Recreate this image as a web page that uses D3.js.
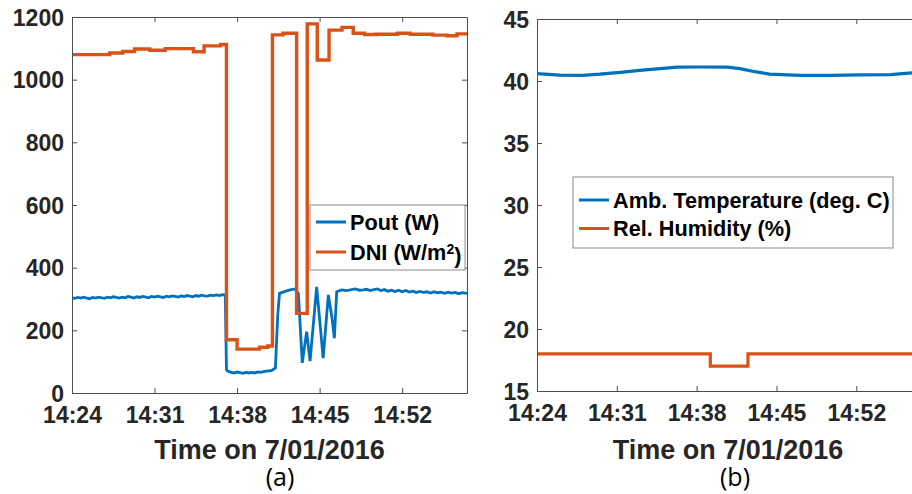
<!DOCTYPE html>
<html>
<head>
<meta charset="utf-8">
<script src="https://cdn.jsdelivr.net/npm/d3@7/dist/d3.min.js"></script>
<style>
  html, body { margin: 0; padding: 0; background: #fff; }
  svg { display: block; }
  .tick-label { font-family: "Liberation Sans", Arial, sans-serif; font-weight: bold; font-size: 23px; fill: #262626; }
  .axis-title { font-family: "Liberation Sans", Arial, sans-serif; font-weight: bold; font-size: 27px; fill: #262626; }
  .legend-text { font-family: "Liberation Sans", Arial, sans-serif; font-weight: bold; font-size: 21.7px; fill: #000; }
  .panel-tag { font-family: "Open Sans", "Noto Sans", sans-serif; font-size: 25px; fill: #000; }
</style>
</head>
<body>
<svg id="chart" width="912" height="494"></svg>
<script>
// Time axis: minutes after 14:24 on 7/01/2016
const timeDomain = [0, 33.5];
const timeTickMinutes = [0, 7, 14, 21, 28];
const timeTickLabels = ["14:24", "14:31", "14:38", "14:45", "14:52"];

// Panel (a): output power and direct normal irradiance
const powerTicks = [0, 200, 400, 600, 800, 1000, 1200];

const dniMinutes = [0, 3.2, 4.3, 5.3, 6.6, 7.9, 10.3, 11.2, 12.6, 13.1, 14.0, 15.9, 16.6, 17.0, 17.9, 19.05, 19.95, 20.8, 21.8, 22.9, 23.85, 24.8, 25.8, 27.6, 28.7, 30.6, 31.8, 32.65, 33.5];
const dniValues  = [1080, 1085, 1090, 1098, 1094, 1099, 1089, 1108, 1112, 170, 140, 146, 150, 1143, 1148, 254, 1178, 1063, 1158, 1167, 1148, 1144, 1145, 1148, 1145, 1142, 1140, 1146, 1146];

const poutMinutes = [
  0, 0.25, 0.5, 0.75, 1, 1.25, 1.5, 1.75, 2, 2.25, 2.5, 2.75, 3, 3.25, 3.5, 3.75,
  4, 4.25, 4.5, 4.75, 5, 5.25, 5.5, 5.75, 6, 6.25, 6.5, 6.75, 7, 7.25, 7.5, 7.75,
  8, 8.25, 8.5, 8.75, 9, 9.25, 9.5, 9.75, 10, 10.25, 10.5, 10.75, 11, 11.25, 11.5, 11.75,
  12, 12.25, 12.5, 12.75, 13.0,
  13.1, 13.2, 13.5, 13.75, 14, 14.25, 14.5, 14.75, 15, 15.25, 15.5, 15.75, 16, 16.25, 16.5, 16.75, 16.95,
  17.25, 17.45, 17.6, 17.9, 18.2, 18.5, 18.9, 19.2, 19.53, 19.9, 20.19,
  20.75, 21.3, 21.74, 22.05, 22.25, 22.45, 22.87, 23.3, 24.0, 24.4,
  24.7, 25.0, 25.3, 25.6, 25.9, 26.2, 26.5, 26.8, 27.1, 27.4, 27.7, 28.0, 28.3, 28.6,
  28.9, 29.2, 29.5, 29.8, 30.1, 30.4, 30.7, 31.0, 31.3, 31.6, 31.9, 32.2, 32.5, 32.8, 33.1, 33.5
];
const poutValues = [
  304, 302, 305, 303, 306, 303, 301, 305, 303, 306, 304, 302, 306, 304, 307, 305,
  303, 306, 304, 308, 306, 303, 307, 305, 308, 306, 304, 308, 306, 309, 307, 305,
  309, 307, 310, 308, 306, 310, 308, 311, 309, 307, 311, 309, 312, 310, 309, 312,
  311, 313, 311, 314, 313,
  75, 70, 66, 64, 67, 65, 63, 66, 64, 66, 64, 67, 66, 68, 70, 71, 72,
  80, 250, 318, 322, 326, 329, 332, 318, 96, 196, 102,
  339, 111, 313, 240, 175, 323, 329, 327, 332, 328,
  329, 331, 327, 330, 332, 327, 330, 325, 328, 324, 328, 323, 327, 322,
  325, 321, 324, 321, 323, 319, 323, 320, 322, 318, 322, 319, 321, 317, 320, 318
];

// Panel (b): ambient temperature and relative humidity
const weatherTicks = [15, 20, 25, 30, 35, 40, 45];

const tempMinutes = [0, 2, 4, 5.5, 7.3, 9.0, 10.8, 12.3, 14.3, 16.7, 17.8, 19.1, 20.4, 23.1, 25.7, 28.3, 31.0, 32.9, 33.5];
const tempValues  = [40.6, 40.47, 40.46, 40.55, 40.7, 40.85, 41.0, 41.12, 41.13, 41.12, 41.0, 40.75, 40.55, 40.46, 40.46, 40.5, 40.52, 40.65, 40.7];

const humMinutes = [0, 15.2, 18.5, 33.5];
const humValues  = [18, 17, 18, 18];

const colors = { blue: "#0072BD", orange: "#D95319", axis: "#4d4d4d" };

const svg = d3.select("#chart");
svg.append("rect").attr("width", 912).attr("height", 494).attr("fill", "#fff");

function drawPanel(opt) {
  const x = d3.scaleLinear().domain(timeDomain).range([opt.left, opt.right]);
  const y = d3.scaleLinear().domain(opt.yDomain).range([opt.bottom, opt.top]);
  const g = svg.append("g");

  // clip for the plotted series
  const clipId = "clip-" + opt.tag;
  g.append("clipPath").attr("id", clipId)
    .append("rect").attr("x", opt.left).attr("y", opt.top)
    .attr("width", opt.right - opt.left).attr("height", opt.bottom - opt.top);

  const plot = g.append("g").attr("clip-path", `url(#${clipId})`);
  opt.series.forEach(s => {
    const pts = s.t.map((t, i) => [t, s.v[i]]);
    const line = d3.line()
      .x(d => x(d[0])).y(d => y(d[1]))
      .curve(s.step ? d3.curveStepAfter : d3.curveLinear);
    plot.append("path").datum(pts)
      .attr("fill", "none").attr("stroke", s.color)
      .attr("stroke-width", s.width).attr("stroke-linejoin", "miter")
      .attr("d", line);
  });

  // axes: bottom/left with labels, top/right as mirrored ticks
  const tl = 5;
  const bottomAxis = d3.axisBottom(x).tickValues(timeTickMinutes).tickSizeInner(-tl).tickSizeOuter(0)
    .tickFormat((d, i) => timeTickLabels[i]);
  const topAxis = d3.axisTop(x).tickValues(timeTickMinutes).tickSizeInner(-tl).tickSizeOuter(0).tickFormat("");
  const leftAxis = d3.axisLeft(y).tickValues(opt.yTicks).tickSizeInner(-tl).tickSizeOuter(0).tickFormat(d3.format("d"));
  const rightAxis = d3.axisRight(y).tickValues(opt.yTicks).tickSizeInner(-tl).tickSizeOuter(0).tickFormat("");

  const styleAxis = sel => {
    sel.select(".domain").attr("stroke", colors.axis).attr("stroke-width", 1);
    sel.selectAll(".tick line").attr("stroke", colors.axis).attr("stroke-width", 1);
    sel.attr("font-family", null).attr("font-size", null);
    sel.selectAll(".tick text").attr("class", "tick-label").attr("fill", null);
  };

  g.append("g").attr("transform", `translate(0,${opt.bottom})`).call(bottomAxis).call(styleAxis)
    .selectAll(".tick text").attr("dy", null).attr("y", 30);
  g.append("g").attr("transform", `translate(0,${opt.top})`).call(topAxis).call(styleAxis);
  g.append("g").attr("transform", `translate(${opt.left},0)`).call(leftAxis).call(styleAxis)
    .selectAll(".tick text").attr("x", -8).attr("dy", "0.36em");
  g.append("g").attr("transform", `translate(${opt.right},0)`).call(rightAxis).call(styleAxis);

  // axis title and panel tag
  const cx = (opt.left + opt.right) / 2;
  g.append("text").attr("class", "axis-title").attr("x", cx).attr("y", 459)
    .attr("text-anchor", "middle").text("Time on 7/01/2016");
  g.append("text").attr("class", "panel-tag").attr("x", opt.tagX).attr("y", 486)
    .attr("text-anchor", "middle").text("(" + opt.tag + ")");

  // legend
  const lg = opt.legend;
  g.append("rect").attr("x", lg.x).attr("y", lg.y).attr("width", lg.w).attr("height", lg.h)
    .attr("fill", "#fff").attr("stroke", "#8a8a8a").attr("stroke-width", 1);
  lg.items.forEach((it, i) => {
    const yy = lg.y + lg.first + i * lg.step;
    g.append("line").attr("x1", lg.x + 6).attr("x2", lg.x + 36).attr("y1", yy).attr("y2", yy)
      .attr("stroke", it.color).attr("stroke-width", 3);
    const t = g.append("text").attr("class", "legend-text").attr("x", lg.x + 40).attr("y", yy).attr("dy", "0.36em");
    it.label(t);
  });
}

drawPanel({
  tag: "a", tagX: 280,
  left: 72, right: 467, top: 17, bottom: 393,
  yDomain: [0, 1200], yTicks: powerTicks,
  series: [
    { t: poutMinutes, v: poutValues, color: colors.blue, width: 2.8, step: false },
    { t: dniMinutes, v: dniValues, color: colors.orange, width: 3.4, step: true }
  ],
  legend: {
    x: 310, y: 205, w: 155, h: 65, first: 17, step: 30,
    items: [
      { color: colors.blue, label: t => t.text("Pout (W)") },
      { color: colors.orange, label: t => {
          t.append("tspan").text("DNI (W/m");
          t.append("tspan").attr("dy", "-0.45em").attr("font-size", "14px").text("2");
          t.append("tspan").attr("dy", "0.45em").text(")");
        } }
    ]
  }
});

drawPanel({
  tag: "b", tagX: 735,
  left: 537, right: 919, top: 19, bottom: 391,
  yDomain: [15, 45], yTicks: weatherTicks,
  series: [
    { t: tempMinutes, v: tempValues, color: colors.blue, width: 3.2, step: false },
    { t: humMinutes, v: humValues, color: colors.orange, width: 3.2, step: true }
  ],
  legend: {
    x: 573, y: 177, w: 320, h: 71, first: 23, step: 28.5,
    items: [
      { color: colors.blue, label: t => t.text("Amb. Temperature (deg. C)") },
      { color: colors.orange, label: t => t.text("Rel. Humidity (%)") }
    ]
  }
});
</script>
</body>
</html>
